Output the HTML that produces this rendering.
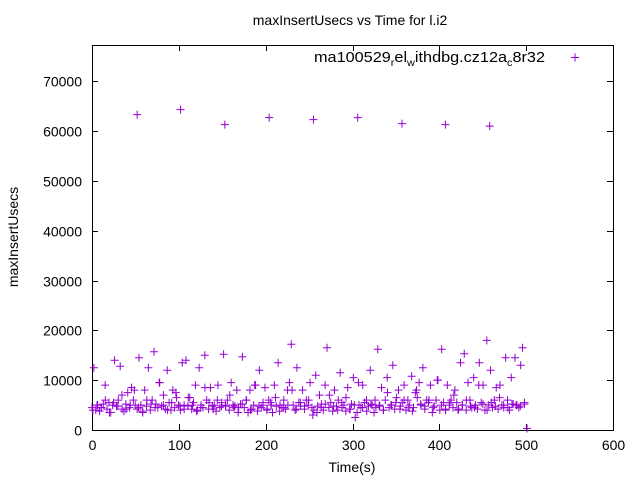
<!DOCTYPE html>
<html><head><meta charset="utf-8"><style>
body{margin:0;background:#fff}
svg{display:block;font-family:"Liberation Sans",sans-serif}
</style></head><body>
<svg id="chart" width="640" height="480" viewBox="0 0 640 480">
<rect width="640" height="480" fill="#fff"/>
<text x="350" y="25" font-size="14" text-anchor="middle">maxInsertUsecs vs Time for l.i2</text>
<g id="axes"></g>
<g id="points"></g>
<text transform="translate(18,237) rotate(-90)" font-size="14" text-anchor="middle">maxInsertUsecs</text>
<text x="352" y="472" font-size="14" text-anchor="middle">Time(s)</text>
<g>
<text x="314" y="62" font-size="15" textLength="231" lengthAdjust="spacingAndGlyphs">ma100529<tspan font-size="10" dy="4">r</tspan><tspan dy="-4">el</tspan><tspan font-size="10" dy="4">w</tspan><tspan dy="-4">ithdbg.cz12a</tspan><tspan font-size="10" dy="4">c</tspan><tspan dy="-4">8r32</tspan></text>
<path d="M571,57.5h8M575,53.5v8" stroke="#9400d3" stroke-width="1"/>
</g>
</svg>
<script>
const xTicks=[0,100,200,300,400,500,600];
const yTicks=[0,10000,20000,30000,40000,50000,60000,70000];
const outlierTimes=[52,102,153,204,255,306,357,407,458];
const outlierValues=[63300,64300,61300,62700,62300,62700,61500,61300,61000];
const baseValues=[4500,12500,4000,5000,3800,4500,5200,9000,4200,5500,3500,5000,14000,4800,6000,12800,4200,3800,5200,7500,4500,8500,6000,5000,4200,14500,5000,3500,8000,4800,12500,4000,6000,15700,5200,4500,9500,4800,7000,4200,12000,5500,4000,8000,4500,6500,5000,4000,13500,5000,14000,4800,6500,4200,5500,9000,4000,12500,5000,4500,15000,6000,4200,8500,4800,5000,3800,9000,4500,5500,15200,4800,6000,4000,9500,5000,4800,8000,4500,5200,14700,4500,6000,3500,8000,4200,5000,9000,3800,12000,4500,5000,8500,4000,6000,5500,3500,9000,4800,13500,5000,4500,6000,4200,8000,9500,17200,5000,4000,12500,5500,4800,8000,4200,6000,5000,9500,4500,4000,11000,4800,7000,5200,4000,9000,16500,4500,5500,3800,8000,4800,6000,11500,4500,5000,3800,8500,4200,5200,10500,2500,3500,5000,4500,9000,5500,6000,4800,12000,5000,3500,4500,16200,5000,8500,4000,6000,10500,4500,5000,13000,4200,6500,8000,4800,5500,9000,4000,6000,5000,10800,4500,7500,6500,9500,5000,12500,4200,6000,5500,9000,3500,4800,6000,10000,4000,16200,5500,4000,9000,5000,6000,4500,8000,5500,4200,13500,5000,15300,4000,9500,6000,4500,10500,5000,4200,13500,5500,9000,4000,18000,5000,12000,4500,6000,8500,4200,9000,5000,4500,14500,6000,4000,10500,5200,14500,5000,4500,13000,16500,5200];
const altValues=[4000,5000,4500,6000,3500,5500,4800,7000,4200,5000,8000,4500,3800,6000,5200,4500,9500,5000,4000,5500,7500,4800,4200,6500,5000,3800,4500,8500,5500,4200,6000,4800,5000,7000,4500,3500,5200,6000,4000,9000,4800,5500,4200,5000,6500,3800,4500,5000,8000,4200,5500,4800,6000,3000,3500,4500,5200,7000,4800,4000,5500,6500,4200,5000,9500,4500,3800,5200,6000,4800,4000,7500,5000,5500,4200,6000,4500,3800,8000,5200,4800,6000,4500,10000,5000,4200,5500,7000,4000,5000,6000,4800,4500,9000,5200,4000,5500,4800,6500,5000,4500,5200,5000,4800,5500];
const X0=92,X1=613,Y0=430,Y1=45,XMAX=600,YMAX=77270;
const xs=v=>X0+v*(X1-X0)/XMAX, ys=v=>Y0-v*(Y0-Y1)/YMAX;
const NS="http://www.w3.org/2000/svg";
const ax=document.getElementById('axes'),pts=document.getElementById('points');
function mk(t,a,p){const e=document.createElementNS(NS,t);for(const k in a)e.setAttribute(k,a[k]);p.appendChild(e);return e;}
const frame=mk('rect',{x:X0+.5,y:Y1+.5,width:X1-X0,height:Y0-Y1,fill:'none',stroke:'#000','stroke-width':1},ax);


xTicks.forEach(v=>{const x=Math.round(xs(v))+.5;
 const t=mk('path',{d:`M${x},${Y0}v-6M${x},${Y1}v6`,stroke:'#000'},ax);
 
 
 const l=mk('text',{x:x,y:Y0+20,'font-size':14,'text-anchor':'middle'},ax);l.textContent=v;
 
 });
yTicks.forEach(v=>{const y=Math.round(ys(v))+.5;
 const t=mk('path',{d:`M${X0},${y}h6M${X1},${y}h-6`,stroke:'#000'},ax);
 
 
 const l=mk('text',{x:X0-10,y:y+5,'font-size':14,'text-anchor':'end'},ax);l.textContent=v;
 
 });
function plus(x,y){const p=mk('path',{d:`M${x-4},${y}h8M${x},${y-4}v8`,stroke:'#9400d3','stroke-width':1,fill:'none'},pts);
 
 }
baseValues.forEach((v,i)=>plus(xs(i*498/(baseValues.length-1)),ys(v)));
altValues.forEach((v,i)=>plus(xs(1+i*497/(altValues.length-1)),ys(v)));
outlierTimes.forEach((t,i)=>plus(xs(t),ys(outlierValues[i])));
plus(xs(501),ys(300));
</script>
</body></html>
